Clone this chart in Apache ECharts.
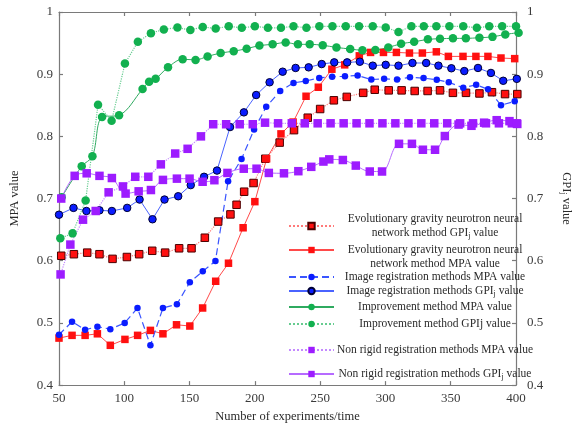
<!DOCTYPE html>
<html>
<head>
<meta charset="utf-8">
<script src="https://cdn.jsdelivr.net/npm/echarts@6/dist/echarts.min.js"></script>
<style>
html,body{margin:0;padding:0;background:#fff;}
#c{width:581px;height:428px;}
</style>
</head>
<body>
<div id="c"></div>
<script>
// ---- data ----
const egnnGpiX = [51.7,61.4,71.6,81,91,102,111.4,121.4,131.3,142,151.5,161.7,171.9,181.3,186,191.8,199,208,219,230,240.5,250,260.5,270.4,283,291.8,302.5,312.4,322.4,332.3,341.8,351.7,361.7,372,381.6,391.6,401];
const egnnGpiY = [0.608,0.6105,0.613,0.6105,0.603,0.606,0.6105,0.616,0.613,0.620,0.620,0.637,0.663,0.6745,0.69,0.711,0.725,0.764,0.79,0.81,0.83,0.844,0.858,0.8635,0.870,0.875,0.874,0.874,0.873,0.873,0.874,0.870,0.870,0.869,0.871,0.868,0.868];

const egnnMpaX = [50,60,70,79.4,89.3,100.5,110.2,120,129.6,140,150.2,160,170,179.8,191,200,209,220,229.3,239.2,248.6,259,268.8,280,288.6,298.5,308.4,318.4,328.3,339,348.2,359.4,369.3,378.5,388.5,399];
const egnnMpaY = [0.4756,0.480,0.480,0.4825,0.464,0.4735,0.48,0.488,0.4825,0.497,0.495,0.524,0.567,0.596,0.653,0.695,0.764,0.804,0.823,0.8645,0.879,0.908,0.915,0.9295,0.935,0.935,0.935,0.934,0.934,0.936,0.9286,0.9286,0.9286,0.9286,0.926,0.925];

const imgMpaX = [50,60,70,79.4,89.3,100.3,110.1,120,129.6,140.3,150.2,160.1,169.8,179.5,189.8,199.4,208.7,219.4,229.6,239,249.3,259.2,269,278.7,289.2,299,308.9,318.8,329.2,339.3,348.5,359.6,369.5,378.6,388.5,399];
const imgMpaY = [0.481,0.502,0.489,0.494,0.490,0.500,0.524,0.464,0.524,0.530,0.5655,0.583,0.5995,0.728,0.7635,0.811,0.8476,0.873,0.886,0.889,0.894,0.896,0.8965,0.898,0.8914,0.8925,0.8914,0.895,0.8937,0.891,0.887,0.878,0.883,0.8756,0.850,0.8565];

const imgGpiX = [50,61.1,71,81,90.5,102.2,111.7,121.6,130.8,141.3,150.9,161.1,171,181,191.6,201,211.3,221.3,231.2,241.2,251.2,260.8,270.7,280.4,290.3,300.2,310,320.7,331.2,340.6,350.5,360.4,370.9,380.8,390.2,400.6];
const imgGpiY = [0.674,0.685,0.680,0.681,0.680,0.685,0.6984,0.6667,0.6984,0.7037,0.7216,0.735,0.745,0.815,0.8386,0.8665,0.887,0.904,0.910,0.911,0.9163,0.919,0.919,0.920,0.9137,0.915,0.9137,0.918,0.918,0.9137,0.9095,0.905,0.910,0.902,0.8894,0.8925];

const impMpaX = [52,67.4,75.6,83,96,114,119,124,133.5,144.7,154.6,163.8,173.8,183.8,193.7,203.5,213.6,223.6,233,242,252,262.5,273,282.4,292.3,302.2,312,322,332.5,341.8,351.7,361.6,372,382,391.8,402];
const impMpaY = [0.702,0.752,0.768,0.831,0.834,0.876,0.888,0.8925,0.911,0.924,0.923,0.9286,0.934,0.937,0.941,0.946,0.948,0.951,0.948,0.948,0.9465,0.943,0.9405,0.9385,0.939,0.943,0.949,0.952,0.956,0.957,0.9576,0.9576,0.9587,0.960,0.964,0.9667];

const impGpiX = [51,60.4,70.4,79.9,90.3,100.5,110.4,120.4,130.3,140.7,150.6,160.1,170,180,190,200,210,220,229.6,239.5,249.4,259.4,269.6,279.8,290.3,300.2,310,319.9,329.4,339,349,359.6,370,379.5,389.4,400];
const impGpiY = [0.636,0.644,0.697,0.851,0.825,0.917,0.952,0.966,0.972,0.975,0.971,0.976,0.9735,0.977,0.9745,0.977,0.9745,0.9745,0.977,0.9745,0.977,0.977,0.977,0.977,0.977,0.975,0.968,0.977,0.977,0.977,0.977,0.977,0.9745,0.977,0.977,0.977];

const nrMpaX = [51.2,58.7,68.4,78.1,88,99,108.4,118.4,128,139,148.5,158.7,168.1,178,188.4,198.4,207.8,217.8,228.3,238.2,248.1,258,268,277.9,287.8,297.7,307.6,317.6,327.5,337.4,347.3,357.2,367.1,377,386.9,396.8,401];
const nrMpaY = [0.578,0.626,0.666,0.680,0.710,0.7195,0.735,0.735,0.755,0.7724,0.780,0.800,0.8195,0.8195,0.8195,0.8195,0.822,0.821,0.821,0.821,0.821,0.821,0.821,0.821,0.821,0.821,0.821,0.821,0.821,0.821,0.821,0.821,0.821,0.821,0.821,0.821,0.820];

const nrGpiX = [51.7,62,71.2,81,90.5,101,111,120.4,129.6,140.3,150,160,169,179,191.5,201.3,210.7,222.3,233.3,243.2,252.5,257,267.4,277.3,288,297.4,310.4,320.3,328.7,338,345.5,356,365.9,375.6,385.2,395,400.5];
const nrGpiY = [0.700,0.7365,0.7406,0.7365,0.733,0.708,0.7116,0.7137,0.730,0.732,0.732,0.727,0.7295,0.7412,0.748,0.748,0.7412,0.7406,0.744,0.751,0.7595,0.763,0.762,0.753,0.7435,0.7435,0.788,0.788,0.7785,0.7785,0.8005,0.819,0.817,0.822,0.826,0.8245,0.821];

const seriesNames = [
  'Evolutionary gravity neurotron neural network method GPIj value',
  'Evolutionary gravity neurotron neural network method MPA value',
  'Image registration methods MPA value',
  'Image registration methods GPIj value',
  'Improvement method MPA value',
  'Improvement method GPIj value',
  'Non rigid registration methods MPA value',
  'Non rigid registration methods GPIj value'
];
const legendLabels = [
  '{t|Evolutionary gravity neurotron neural}\n{t|network method GPI}{s|j}{t| value}',
  '{e| }\n{t|Evolutionary gravity neurotron neural}\n{t|network method MPA value}',
  '{t|Image registration methods MPA value}',
  '{t|Image registration methods GPI}{s|j}{t| value}',
  '{t|Improvement method MPA value}',
  '{t|Improvement method GPIj value}',
  '{t|Non rigid registration methods MPA value}',
  '{t|Non rigid registration methods GPI}{s|j}{t| value}'
];
const legendCenters = [227, 253, 278, 292, 308, 325, 351, 375];
const legendLines = [2, 3, 1, 1, 1, 1, 1, 1];

// ---- build ----
const pairs = (xs, ys) => xs.map((x, i) => [x, ys[i]]);
const FONT = '"Liberation Serif", "DejaVu Serif", serif';

function mk(name, xs, ys, o) {
  return {
    name: name, type: 'line', data: pairs(xs, ys), clip: false,
    symbol: o.symbol, symbolSize: o.size, smooth: o.smooth || false,
    lineStyle: { color: o.line, width: o.lw || 1, type: o.type || 'solid' },
    itemStyle: { color: o.fill, borderColor: o.border || o.fill, borderWidth: o.border ? 1 : 0, opacity: 1 },
    emphasis: { disabled: true },
    z: o.z || 2
  };
}

const series = [
  mk(seriesNames[0], egnnGpiX, egnnGpiY, { symbol: 'rect', size: 7.5, line: '#ff7a7a', fill: '#ff1010', border: '#4a0000', type: 'dotted', lw: 1.2 }),
  mk(seriesNames[1], egnnMpaX, egnnMpaY, { symbol: 'rect', size: 7.5, line: '#ff4a4a', fill: '#ff1010' }),
  mk(seriesNames[2], imgMpaX, imgMpaY, { symbol: 'circle', size: 6.5, line: '#3a55ff', fill: '#0a1cff', type: [7, 4], lw: 1.2 }),
  mk(seriesNames[3], imgGpiX, imgGpiY, { symbol: 'circle', size: 7.5, line: '#4a63ff', fill: '#0a1cff', border: '#000033' }),
  mk(seriesNames[4], impMpaX, impMpaY, { symbol: 'circle', size: 8.5, line: '#2faa60', fill: '#12b04f', smooth: 0.35 }),
  mk(seriesNames[5], impGpiX, impGpiY, { symbol: 'circle', size: 8.5, line: '#66cc90', fill: '#12b04f', type: 'dotted', lw: 1.2 }),
  mk(seriesNames[6], nrMpaX, nrMpaY, { symbol: 'rect', size: 8.5, line: '#c48aff', fill: '#9d1cff', type: 'dotted', lw: 1.2 }),
  mk(seriesNames[7], nrGpiX, nrGpiY, { symbol: 'rect', size: 8.5, line: '#b66bff', fill: '#9d1cff', smooth: 0.35 })
];

const legends = seriesNames.map((n, i) => ({
  data: [n],
  left: 288,
  top: legendCenters[i] - legendLines[i] * 7,
  padding: 0,
  itemWidth: 45,
  itemHeight: 8,
  selectedMode: false,
  formatter: () => legendLabels[i],
  textStyle: {
    width: 192,
    fontFamily: FONT,
    fontSize: 11.5,
    color: '#2a2a2a',
    rich: {
      t: { fontFamily: FONT, fontSize: 11.5, color: '#2a2a2a', align: 'center', lineHeight: 14 },
      s: { fontFamily: FONT, fontSize: 8, color: '#2a2a2a', align: 'center', verticalAlign: 'bottom', lineHeight: 14 },
      e: { fontSize: 8, lineHeight: 14, align: 'center' }
    }
  }
}));

const axisLineStyle = { color: '#7a7a7a', width: 1.2 };
const labelStyle = { fontFamily: FONT, fontSize: 13, color: '#3a3a3a' };

const option = {
  animation: false,
  backgroundColor: '#ffffff',
  grid: { left: 55, right: 55, top: 12, bottom: 37, containLabel: false },
  legend: legends,
  xAxis: [
    {
      type: 'value', min: 50, max: 400, interval: 50, position: 'bottom',
      name: 'Number of experiments/time', nameLocation: 'middle', nameGap: 19,
      nameTextStyle: { fontFamily: FONT, fontSize: 12.5, color: '#2a2a2a' },
      axisLine: { show: true, lineStyle: axisLineStyle },
      axisTick: { show: true, inside: true, length: 4, lineStyle: axisLineStyle },
      axisLabel: Object.assign({ margin: 7 }, labelStyle),
      splitLine: { show: false }
    },
    {
      type: 'value', min: 50, max: 400, interval: 50, position: 'top',
      axisLine: { show: true, lineStyle: axisLineStyle },
      axisTick: { show: true, inside: true, length: 4, lineStyle: axisLineStyle },
      axisLabel: { show: false },
      splitLine: { show: false }
    }
  ],
  yAxis: [
    {
      type: 'value', min: 0.4, max: 1, interval: 0.1, position: 'left',
      name: 'MPA value', nameLocation: 'middle', nameGap: 38,
      nameTextStyle: { fontFamily: FONT, fontSize: 12.5, color: '#2a2a2a' },
      axisLine: { show: true, lineStyle: axisLineStyle },
      axisTick: { show: true, inside: true, length: 4, lineStyle: axisLineStyle },
      axisLabel: Object.assign({ margin: 6, formatter: v => (Math.round(v * 10) / 10).toString() }, labelStyle),
      splitLine: { show: false }
    },
    {
      type: 'value', min: 0.4, max: 1, interval: 0.1, position: 'right',
      name: '{t|GPI}{s|j}{t| value}', nameLocation: 'middle', nameGap: 43, nameRotate: -90,
      nameTextStyle: {
        fontFamily: FONT, fontSize: 12.5, color: '#2a2a2a',
        rich: {
          t: { fontFamily: FONT, fontSize: 12.5, color: '#2a2a2a', lineHeight: 15 },
          s: { fontFamily: FONT, fontSize: 8.5, color: '#2a2a2a', verticalAlign: 'bottom', lineHeight: 15 }
        }
      },
      axisLine: { show: true, lineStyle: axisLineStyle },
      axisTick: { show: true, inside: true, length: 4, lineStyle: axisLineStyle },
      axisLabel: Object.assign({ margin: 11, formatter: v => (Math.round(v * 10) / 10).toString() }, labelStyle),
      splitLine: { show: false }
    }
  ],
  series: series
};

const chart = echarts.init(document.getElementById('c'), null, { renderer: 'canvas' });
chart.setOption(option);
</script>
</body>
</html>
